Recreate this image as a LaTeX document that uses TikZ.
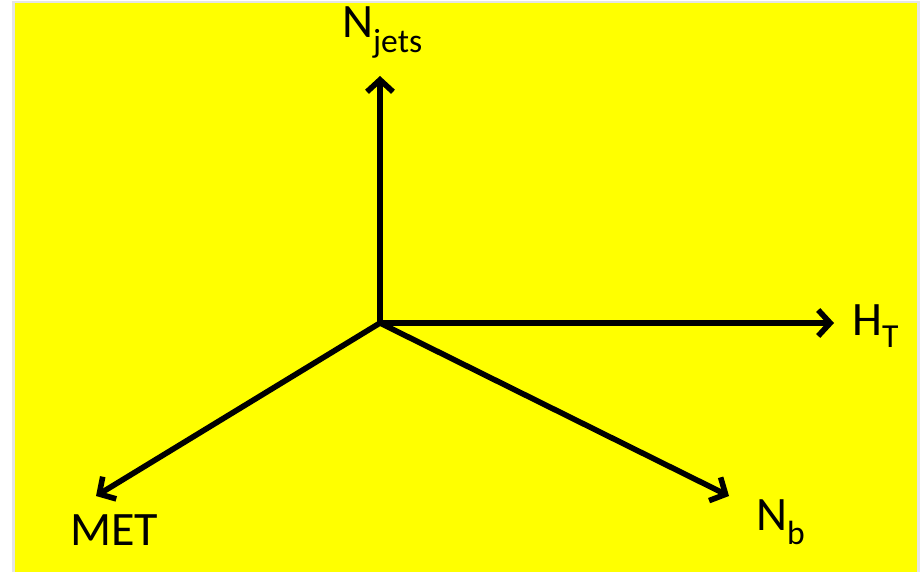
\documentclass[tikz,border=0pt]{standalone}
\usepackage{fontspec}
\setmainfont{Carlito}
\usetikzlibrary{arrows.meta}
\definecolor{bgyellow}{RGB}{255,255,0}
\tikzset{
  axis/.style={line width=5.6pt, -{Straight Barb[length=12pt,width=26pt,line width=5.6pt]}, line cap=round, line join=round},
  lbl/.style={font=\fontsize{48}{52}\selectfont, inner sep=0pt}
}
\begin{document}
\begin{tikzpicture}[x=1pt,y=-1pt]
\useasboundingbox (0,0) rectangle (920,572);
\fill[white] (0,0) rectangle (920,572);
\fill[black!10] (12,1) rectangle (920,572);
\fill[bgyellow] (15,3) rectangle (917,572);
\coordinate (o) at (380,323);
\coordinate (up) at (380,76);
\coordinate (ht) at (834,323);
\coordinate (met) at (96,496);
\coordinate (nb) at (729,496);
\draw[axis] (o) -- (up);
\draw[axis] (o) -- (ht);
\draw[axis] (o) -- (met);
\draw[axis] (o) -- (nb);
\node[lbl, anchor=base west] (lnj) at (342,38) {N\textsubscript{jets}};
\node[lbl, anchor=base west] (lht) at (852,335) {H\textsubscript{T}};
\node[lbl, anchor=base west] (lmet) at (70,545) {MET};
\node[lbl, anchor=base west] (lnb) at (756,530) {N\textsubscript{b}};
\end{tikzpicture}
\end{document}
